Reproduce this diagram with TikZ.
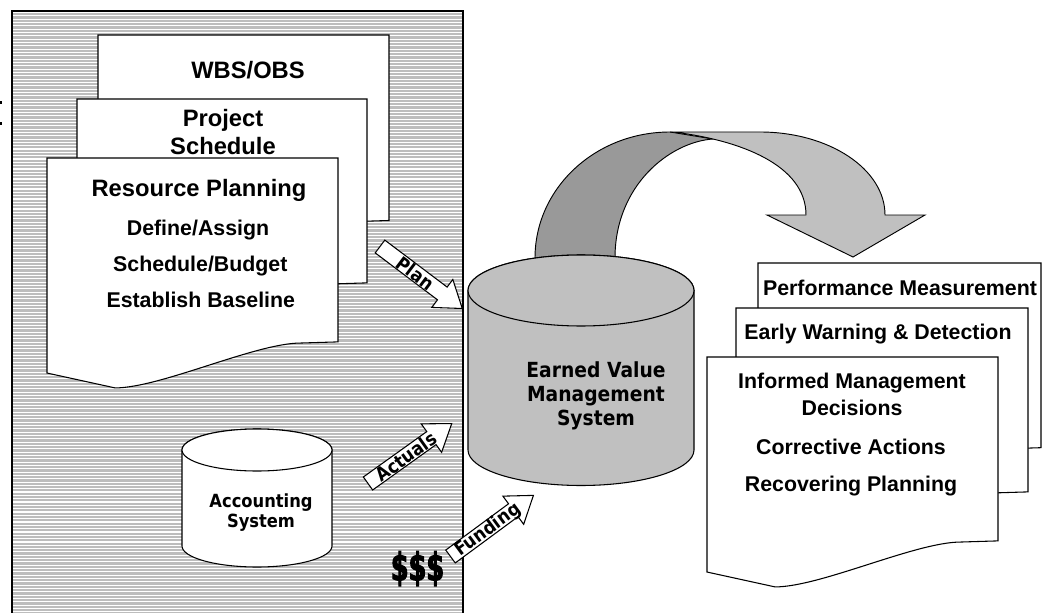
\documentclass[tikz,border=0pt]{standalone}
\usepackage{fontspec}
\setmainfont{Liberation Sans}
\newfontfamily\tahoma{DejaVu Sans}[FakeStretch=0.9]
\newfontfamily\impactf{DejaVu Sans}[FakeStretch=0.66, FakeBold=2.5]
\definecolor{panelgray}{HTML}{BDBDBD}
\definecolor{ribdark}{HTML}{999999}
\definecolor{riblight}{HTML}{C0C0C0}
\newcommand{\docpath}[4]{(#1,#2) -- ({#1+#3},#2) -- ({#1+#3},{#2+0.803*#4}) -- ({#1+0.872*#3},{#2+0.808*#4}) .. controls ({#1+0.717*#3},{#2+0.808*#4}) and ({#1+0.39*#3},{#2+1.004*#4}) .. ({#1+0.234*#3},{#2+1.004*#4}) -- (#1,{#2+0.939*#4}) -- cycle}
\newcommand{\blockarrow}[2]{\begin{scope}[shift={#1}, rotate=#2]\draw[barrow] (0,-8) -- (78,-8) -- (78,-17.5) -- (103,0) -- (78,17.5) -- (78,8) -- (0,8) -- cycle;\end{scope}}
\begin{document}
\begin{tikzpicture}[x=0.75pt,y=-0.75pt,
  docshape/.style={fill=white, draw=black, line width=0.8pt},
  barrow/.style={fill=white, draw=black, line width=0.8pt},
  headtxt/.style={font=\fontsize{17.8}{21}\selectfont\bfseries, anchor=base, inner sep=0pt},
  subtxt/.style={font=\fontsize{16}{19}\selectfont\bfseries, anchor=base, inner sep=0pt},
  cyltxt/.style={font=\tahoma\bfseries\fontsize{15.6}{18}\selectfont, anchor=base, inner sep=0pt},
  acctxt/.style={font=\tahoma\bfseries\fontsize{13.6}{16}\selectfont, anchor=base, inner sep=0pt},
  arrtxt/.style={font=\tahoma\bfseries\fontsize{14}{16}\selectfont, inner sep=0pt},
  ribbondark/.style={fill=ribdark, draw=black, line width=0.7pt},
  ribbonlight/.style={fill=riblight, draw=black, line width=0.7pt},
  cylgray/.style={fill=riblight, draw=black, line width=0.8pt},
  cylwhite/.style={fill=white, draw=black, line width=0.8pt}]
\useasboundingbox (0,0) rectangle (1042,613);
\clip (0,0) rectangle (1042,613);
\fill[white] (0,0) rectangle (1042,613);
% left panel
\fill[panelgray] (12,11) rectangle (463,625);
\foreach \yy in {12.5,15.83,...,613} {\draw[white, line width=0.8pt] (13,\yy) -- (462,\yy);}
\draw[line width=1.3pt] (12,625) -- (12,11) -- (463,11) -- (463,625);
\fill (0,101.5) rectangle (2,104.5);
\fill (0,122.5) rectangle (2,125.5);
% planning documents
\draw[docshape] \docpath{98}{35}{291}{231};
\node[headtxt] (wbs) at (248,78.3) {WBS/OBS};
\draw[docshape] \docpath{77}{99}{290}{229};
\node[headtxt] (proj) at (223,126.7) {Project};
\node[headtxt] (sched) at (223,155) {Schedule};
\draw[docshape] \docpath{47}{158}{291}{229};
\node[headtxt] (resp) at (199,196.7) {Resource Planning};
\node[subtxt] (defa) at (198,235) {Define/Assign};
\node[subtxt] (schb) at (200.3,271.7) {Schedule/Budget};
\node[subtxt] (estb) at (200.8,307.3) {Establish Baseline};
% accounting cylinder
\draw[cylwhite] (182,450) -- (182,546) arc[start angle=180,end angle=0,x radius=75,y radius=21] -- (332,450) arc[start angle=360,end angle=180,x radius=75,y radius=21] -- cycle;
\draw[cylwhite] (257,450) ellipse[x radius=75,y radius=21];
\node[acctxt] (acc1) at (261,507.7) {Accounting};
\node[acctxt] (acc2) at (261,527.7) {System};
% dollars
\node[font=\impactf\bfseries\fontsize{29}{32}\selectfont, anchor=base, inner sep=0pt] (money) at (417.5,580.5) {\$\$\$};
% plan / actuals arrows
\blockarrow{(380,246.5)}{-37}
\node[arrtxt, rotate=-37] (plan) at (415.7,273.3) {Plan};
\blockarrow{(368,483.5)}{35.6}
\node[arrtxt, rotate=35.6] (actuals) at (406,456.7) {Actuals};
% curved ribbon arrow
\draw[ribbondark] (535,258) .. controls (535,188) and (595.5,132) .. (670,132) -- (713,139) .. controls (670,142) and (615,185) .. (615,258) -- cycle;
\draw[ribbonlight] (670,132) -- (760,132) .. controls (829,132) and (885,169) .. (885,215) -- (925,215) -- (853,257) -- (767,215) -- (806,215) .. controls (806,165) and (740,140) .. (673,132) -- cycle;
% EVMS cylinder
\draw[cylgray] (468,290.5) -- (468,450) arc[start angle=180,end angle=0,x radius=113,y radius=35.5] -- (694,290.5) arc[start angle=360,end angle=180,x radius=113,y radius=35.5] -- cycle;
\draw[cylgray] (581,290.5) ellipse[x radius=113,y radius=35.5];
\node[cyltxt] (ev1) at (596,377.3) {Earned Value};
\node[cyltxt] (ev2) at (596,401.7) {Management};
\node[cyltxt] (ev3) at (596,425.7) {System};
% funding arrow
\blockarrow{(450.5,556.5)}{36.4}
\node[arrtxt, rotate=36.4] (funding) at (488,530) {Funding};
% output documents
\draw[docshape] \docpath{758}{263}{283}{230};
\node[subtxt] (perf) at (900,295) {Performance Measurement};
\draw[docshape] \docpath{736}{308}{292}{229};
\node[subtxt] (early) at (878,339.6) {Early Warning \& Detection};
\draw[docshape] \docpath{707}{357}{291}{229};
\node[subtxt] (inf1) at (852,388.5) {Informed Management};
\node[subtxt] (inf2) at (852,415) {Decisions};
\node[subtxt] (corr) at (851,454) {Corrective Actions};
\node[subtxt] (reco) at (851,491.7) {Recovering Planning};
\end{tikzpicture}
\end{document}
